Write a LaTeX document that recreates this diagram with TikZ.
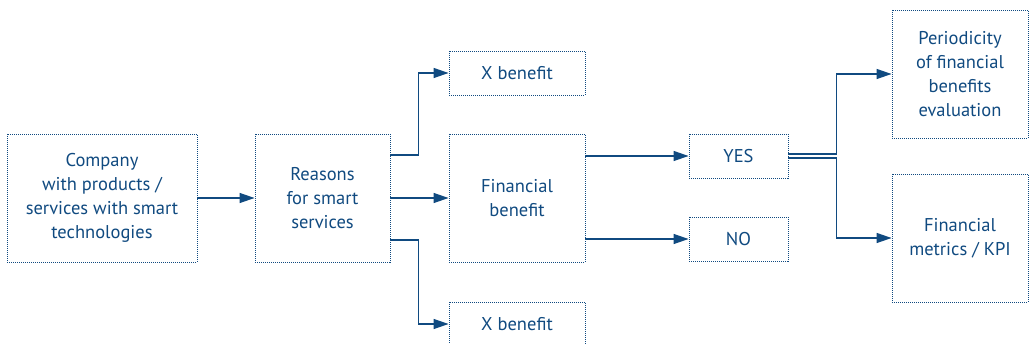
\documentclass[tikz,border=0pt]{standalone}
\usepackage{fontspec}
\setmainfont{PT Sans}
\usetikzlibrary{arrows.meta}
\usetikzlibrary{positioning}
\definecolor{flowblue}{RGB}{16,74,128}

\begin{document}
\begin{tikzpicture}[x=1pt,y=1pt,every node/.style = {align=center},
box/.style={draw=flowblue,line width=0.9pt,dash pattern=on 1pt off 1pt,text=flowblue,
  inner sep=2pt,font=\fontsize{18.5}{24}\selectfont},
bigbox/.style={box,minimum height=128pt},
smallbox/.style={box,minimum height=44pt},
arr/.style={draw=flowblue,line width=1.3pt,-{Triangle[length=15pt,width=10pt]}}]
\useasboundingbox (0,0) rectangle (1030,-344);
\node[bigbox,minimum width=190pt] (company) at (102,-198) {Company\\with products /\\services with smart\\technologies};
\node[bigbox,minimum width=135pt] (reasons) at (322.5,-198) {Reasons\\for smart\\services};
\node[bigbox,minimum width=136pt] (finben) at (517,-198) {Financial\\benefit};
\node[smallbox,minimum width=136pt] (xtop) at (517,-73) {X benefit};
\node[smallbox,minimum width=136pt] (xbot) at (517,-324) {X benefit};
\node[smallbox,minimum width=99pt] (yes) at (738.5,-156) {YES};
\node[smallbox,minimum width=99pt] (no) at (738.5,-239) {NO};
\node[bigbox,minimum width=136pt] (period) at (960,-74) {Periodicity\\of financial\\benefits\\evaluation};
\node[bigbox,minimum width=136pt] (kpi) at (960,-238) {Financial\\metrics / KPI};
\draw[arr] (company) -- (reasons);
\draw[arr] (reasons) -- (finben);
\draw[arr] ([yshift=43pt]reasons.east) -- ++(28,0) |- (xtop.west);
\draw[arr] ([yshift=-42pt]reasons.east) -- ++(28,0) |- (xbot.west);
\draw[arr] (finben.east |- yes) -- (yes);
\draw[arr] (finben.east |- no) -- (no);
\draw[arr] ([yshift=2pt]yes.east) -- ++(48,0) |- (period.west);
\draw[arr] ([yshift=-2pt]yes.east) -- ++(48,0) |- (kpi.west);
\end{tikzpicture}
\end{document}
